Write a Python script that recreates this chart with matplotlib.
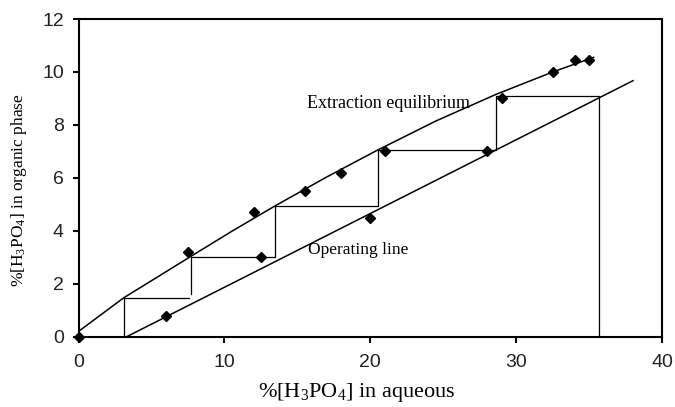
import matplotlib
matplotlib.use("Agg")
from matplotlib import pyplot as plt

# measured points (aqueous %, organic %)
data_x = [0, 6, 7.5, 12, 12.5, 15.5, 18, 20, 21, 28, 29, 32.5, 34, 35]
data_y = [0, 0.8, 3.2, 4.7, 3.0, 5.5, 6.2, 4.5, 7.0, 7.0, 9.0, 10.0, 10.45, 10.45]

# extraction equilibrium curve
eq_x = [0, 3.1, 7.6, 10.5, 13.5, 17, 20.5, 24.5, 28.6, 32.5, 35.3]
eq_y = [0.2, 1.47, 3.0, 3.98, 4.95, 6.03, 7.05, 8.15, 9.15, 10.0, 10.55]

# operating line end points
op_x = [3.3, 38.0]
op_y = [0.0, 9.67]

# stages (None breaks the line)
step_x = [35.7, 35.7, 28.6, 28.6, 20.5, 20.5, 13.5, 13.5, 7.7, 7.7, None, 7.6, 3.1, 3.1]
step_y = [0.0, 9.1, 9.1, 7.05, 7.05, 4.95, 4.95, 3.0, 3.0, 1.6, None, 1.47, 1.47, 0.05]
step_x = [float("nan") if v is None else v for v in step_x]
step_y = [float("nan") if v is None else v for v in step_y]

plt.rcParams["mathtext.default"] = "regular"

fig = plt.figure(figsize=(6.75, 4.07), dpi=100)
ax = fig.add_axes([0.1163, 0.1727, 0.8647, 0.7806])

ax.plot(eq_x, eq_y, color="black", lw=1.1)
ax.plot(op_x, op_y, color="black", lw=1.1)
ax.plot(step_x, step_y, color="black", lw=0.9)
ax.plot(data_x, data_y, "D", color="black", ms=5.5, clip_on=False)

ax.text(15.65, 8.65, "Extraction equilibrium", family="Liberation Serif", fontsize=13)
ax.text(15.7, 3.13, "Operating line", family="Liberation Serif", fontsize=12.5)

ax.set_xlim(0, 40)
ax.set_ylim(0, 12)
ax.set_xticks([0, 10, 20, 30, 40])
ax.set_yticks([0, 2, 4, 6, 8, 10, 12])

for s in ax.spines.values():
    s.set_linewidth(1.5)
ax.tick_params(direction="out", length=4.5, width=1.5, pad=6,
               labelsize=14, colors="black")
ax.tick_params(axis="x", pad=8)
for lab in ax.get_xticklabels() + ax.get_yticklabels():
    lab.set_family("Liberation Sans")
    lab.set_color("#222222")

ax.set_xlabel("%[H$_3$PO$_4$] in aqueous", family="Liberation Serif", fontsize=16)
ax.xaxis.set_label_coords(0.476, -0.14)
ax.set_ylabel("%[H$_3$PO$_4$] in organic phase", family="Liberation Serif", fontsize=12.5)
ax.yaxis.set_label_coords(-0.085, 0.462)

fig.savefig("out.png", dpi=100)
